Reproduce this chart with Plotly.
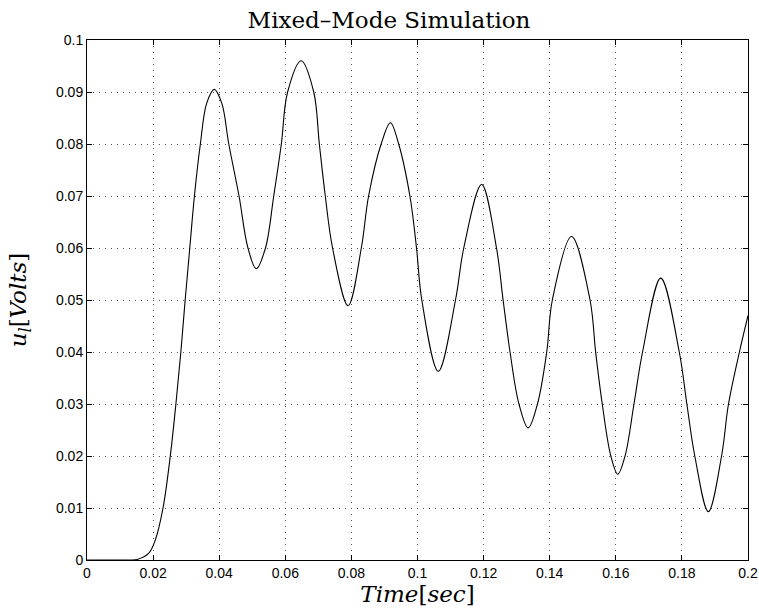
import plotly.graph_objects as go

# Time [sec]
t = [0.0, 0.010, 0.013, 0.0152, 0.0187, 0.0207, 0.0230, 0.0252, 0.0269, 0.0284,
     0.0297, 0.0311, 0.0325, 0.0343, 0.0362, 0.0385, 0.0408,
     0.0429, 0.0460, 0.0487, 0.0512, 0.0540, 0.0565, 0.0588, 0.0607, 0.0648,
     0.0686, 0.0703, 0.0721, 0.0743, 0.0790, 0.0830, 0.0852,
     0.0890, 0.0918, 0.0943, 0.0977, 0.0997, 0.1013, 0.1063,
     0.1115, 0.1140, 0.1194, 0.1239, 0.1259, 0.1280, 0.1307,
     0.1335, 0.1363, 0.1391, 0.1408, 0.1466, 0.1522, 0.1539,
     0.1559, 0.1585, 0.1606, 0.1628, 0.1655, 0.1681, 0.1736,
     0.1792, 0.1815, 0.1839, 0.1880, 0.1920, 0.1941, 0.1974,
     0.2000]
# u_l [Volts]
u = [0.0, 0.0, 0.0, 0.0001, 0.0013, 0.0039, 0.010, 0.020, 0.030, 0.040,
     0.050, 0.060, 0.070, 0.080, 0.0878, 0.0905, 0.0878,
     0.080, 0.070, 0.060, 0.0560, 0.060, 0.070, 0.080, 0.090, 0.0960,
     0.090, 0.080, 0.070, 0.060, 0.0489, 0.060, 0.070,
     0.080, 0.0841, 0.080, 0.070, 0.060, 0.050, 0.0363,
     0.050, 0.060, 0.0722, 0.060, 0.050, 0.040, 0.030,
     0.0254, 0.030, 0.040, 0.050, 0.0622, 0.050, 0.040,
     0.030, 0.020, 0.0165, 0.020, 0.030, 0.040, 0.0542,
     0.040, 0.030, 0.020, 0.0093, 0.020, 0.030, 0.040,
     0.047]

x_ticks = [0, 0.02, 0.04, 0.06, 0.08, 0.1, 0.12, 0.14, 0.16, 0.18, 0.2]
x_tick_text = ["0", "0.02", "0.04", "0.06", "0.08", "0.1", "0.12", "0.14", "0.16", "0.18", "0.2"]
y_ticks = [0, 0.01, 0.02, 0.03, 0.04, 0.05, 0.06, 0.07, 0.08, 0.09, 0.1]
y_tick_text = ["0", "0.01", "0.02", "0.03", "0.04", "0.05", "0.06", "0.07", "0.08", "0.09", "0.1"]

W, H = 759, 616

fig = go.Figure()
fig.add_trace(go.Scatter(x=t, y=u, mode="lines",
                         line=dict(color="black", width=1.1, shape="spline", smoothing=1.0),
                         showlegend=False, hoverinfo="x+y"))

axis_common = dict(
    showline=True, linecolor="black", linewidth=1, mirror="ticks",
    ticks="inside", ticklen=5, tickcolor="black", tickwidth=1,
    showgrid=True, gridcolor="#555", gridwidth=1, griddash="1px,5px",
    zeroline=False, automargin=False,
    tickfont=dict(family="Liberation Sans, Arial, sans-serif", size=14, color="black"),
)

fig.update_layout(
    width=W, height=H,
    margin=dict(l=87, r=11, t=40, b=56),
    paper_bgcolor="white", plot_bgcolor="white",
    title=dict(text="Mixed–Mode Simulation", x=389 / W, xanchor="center",
               y=1 - 20 / H, yanchor="middle",
               font=dict(family="DejaVu Serif, serif", size=23, color="black")),
    xaxis=dict(range=[0, 0.2], tickvals=x_ticks, ticktext=x_tick_text,
               title=dict(text="<i>Time</i>[<i>sec</i>]", standoff=6,
                          font=dict(family="DejaVu Serif, serif", size=23, color="black")),
               **axis_common),
    yaxis=dict(range=[0, 0.1], tickvals=y_ticks, ticktext=y_tick_text,
               title=dict(text="<i>u</i><sub><i>l</i></sub>[<i>Volts</i>]", standoff=22,
                          font=dict(family="DejaVu Serif, serif", size=23, color="black")),
               **axis_common),
)

# remove the default 8px page margin so the figure fills the window exactly
fig.write_html("out.html",
               config={"displayModeBar": False},
               post_script="document.body.style.margin='0';document.body.style.overflow='hidden';")
